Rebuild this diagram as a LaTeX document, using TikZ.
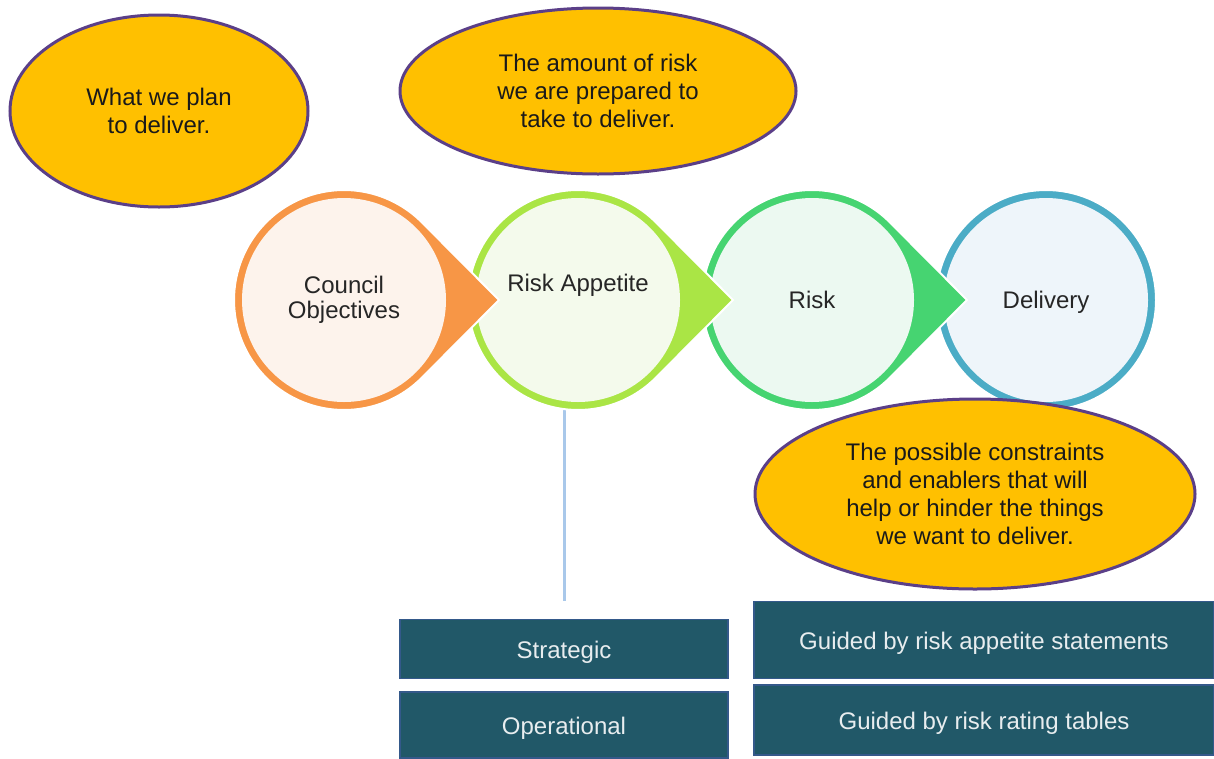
\documentclass[tikz,border=0pt]{standalone}
\usepackage{fontspec}
\setmainfont{Liberation Sans}
\usetikzlibrary{shapes.geometric,calc,backgrounds}

\definecolor{councilRing}{HTML}{F79646}
\definecolor{councilCore}{HTML}{FDF3EC}
\definecolor{appetiteRing}{HTML}{AAE545}
\definecolor{appetiteCore}{HTML}{F4FAEC}
\definecolor{riskRing}{HTML}{46D471}
\definecolor{riskCore}{HTML}{ECF9F1}
\definecolor{deliveryRing}{HTML}{4BACC6}
\definecolor{deliveryCore}{HTML}{EEF5FA}
\definecolor{bubbleFill}{HTML}{FFC000}
\definecolor{bubbleEdge}{HTML}{5B3F88}
\definecolor{bubbleInk}{HTML}{1A1A1A}
\definecolor{hubInk}{HTML}{262626}
\definecolor{tierFill}{HTML}{215868}
\definecolor{tierEdge}{HTML}{34598A}
\definecolor{tierInk}{HTML}{E8EDEF}
\definecolor{stemBlue}{HTML}{A9C8EA}

\begin{document}
\begin{tikzpicture}[x=1pt, y=-1pt,
    hub/.style={circle, minimum size=204pt, inner sep=0pt},
    hubtext/.style={align=center, inner sep=0pt, text=hubInk, font=\fontsize{24}{25}\selectfont},
    bubble/.style={ellipse, draw=bubbleEdge, line width=3pt, fill=bubbleFill, align=center, inner sep=0pt, text=bubbleInk, font=\fontsize{24}{28}\selectfont},
    tier/.style={rectangle, draw=tierEdge, line width=1.5pt, fill=tierFill, inner sep=0pt, text=tierInk, text height=23pt, text depth=5pt, font=\fontsize{24}{28}\selectfont},
    stemline/.style={draw=stemBlue, line width=3pt}
]
\useasboundingbox (0,0) rectangle (1214,758);

% last circle has no pointer
\fill[deliveryRing, draw=white, line width=2pt] (1046,300) circle[radius=110];
\node[hub, fill=deliveryCore] (delivery) at (1046,300) {};
\node[hubtext] (delivery-text) at ([yshift=-2pt]delivery.center) {Delivery};

% circles with pointers, right to left so each tip lies over the next one
\foreach \nm/\cx/\ring/\core/\dy/\lbl in {
    risk/812/riskRing/riskCore/0/Risk,
    appetite/578/appetiteRing/appetiteCore/15/Risk Appetite,
    council/344/councilRing/councilCore/0/{Council\\Objectives}} {
  \fill[\ring, draw=white, line width=2pt] (\cx+155,300) -- ($(\cx,300)+(44.8:110)$)
    arc[start angle=44.8, end angle=315.2, radius=110] -- cycle;
  \node[hub, fill=\core] (\nm) at (\cx,300) {};
  \node[hubtext] (\nm-text) at ([yshift=\dy pt]\nm.center) {\lbl};
}

% stem below Risk Appetite
\coordinate (stemEnd) at (564,601);
\begin{scope}[on background layer]
  \draw[stemline] (appetite.south -| stemEnd) -- (stemEnd);
\end{scope}

% explanations
\node[bubble, minimum width=298pt, minimum height=192pt] (plan) at (159,111) {What we plan\\to deliver.};
\node[bubble, minimum width=396pt, minimum height=166pt] (amount) at (598,91) {The amount of risk\\we are prepared to\\take to deliver.};
\node[bubble, minimum width=440pt, minimum height=190pt] (constraints) at (975,494) {The possible constraints\\and enablers that will\\help or hinder the things\\we want to deliver.};

% levels
\node[tier, minimum width=328pt, minimum height=59pt] (strategic) at (564,649) {Strategic};
\node[tier, minimum width=328pt, minimum height=66pt] (operational) at (564,725) {Operational};
\node[tier, minimum width=460pt, minimum height=77pt] (statements) at (984,640) {Guided by risk appetite statements};
\node[tier, minimum width=460pt, minimum height=70pt] (tables) at (984,720) {Guided by risk rating tables};
\end{tikzpicture}
\end{document}
